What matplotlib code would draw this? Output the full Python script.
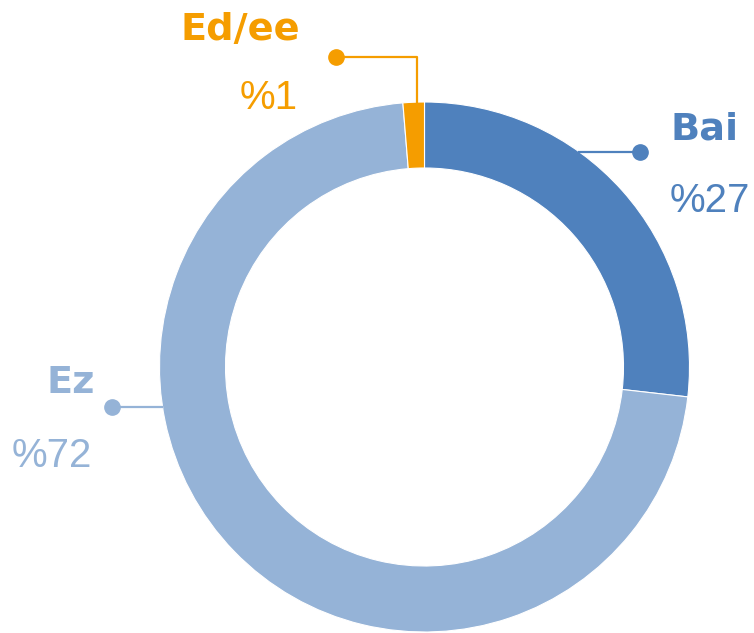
import matplotlib.pyplot as plt

# Donut data (share of answers)
labels = ['Bai', 'Ez', 'Ed/ee']
values = [26.8, 71.9, 1.3]
pct_labels = ['%27', '%72', '%1']
colors = ['#4F81BD', '#95B3D7', '#F59D00']

W, H = 754, 633
fig = plt.figure(figsize=(W / 100, H / 100), dpi=100)
ax = fig.add_axes([0, 0, 1, 1])

cx, cy, r = 424.5, H - 367, 265
ax.pie(values, colors=colors, startangle=90, counterclock=False,
       center=(cx, cy), radius=r, frame=True,
       wedgeprops=dict(width=66, edgecolor='white', linewidth=0.8))
ax.set_xlim(0, W)
ax.set_ylim(0, H)
ax.set_aspect('equal')
ax.axis('off')

def y(p):
    return H - p

# label layout: (name pos, pct pos, leader line points, alignment)
layout = {
    'Bai': dict(name=(671, 130), pct=(670, 201), ha='left',
                line=[(578, 152), (640, 152)], dot=(640, 152)),
    'Ez': dict(name=(95, 383), pct=(92, 456), ha='right',
               line=[(112, 407), (163, 407)], dot=(112, 407)),
    'Ed/ee': dict(name=(300, 30), pct=(298, 98), ha='right',
                  line=[(336, 57), (417, 57), (417, 103)], dot=(336, 57)),
}

for lab, pct, col in zip(labels, pct_labels, colors):
    L = layout[lab]
    xs = [p[0] for p in L['line']]
    ys = [y(p[1]) for p in L['line']]
    ax.plot(xs, ys, color=col, lw=1.6, solid_capstyle='butt')
    ax.plot(L['dot'][0], y(L['dot'][1]), 'o', color=col, ms=11)
    ax.text(L['name'][0], y(L['name'][1]), lab, color=col, fontsize=27.5,
            fontweight='bold', ha=L['ha'], va='center', family='DejaVu Sans')
    ax.text(L['pct'][0], y(L['pct'][1]), pct, color=col, fontsize=29,
            ha=L['ha'], va='center', family='Liberation Sans')

fig.savefig('out.png', dpi=100)
